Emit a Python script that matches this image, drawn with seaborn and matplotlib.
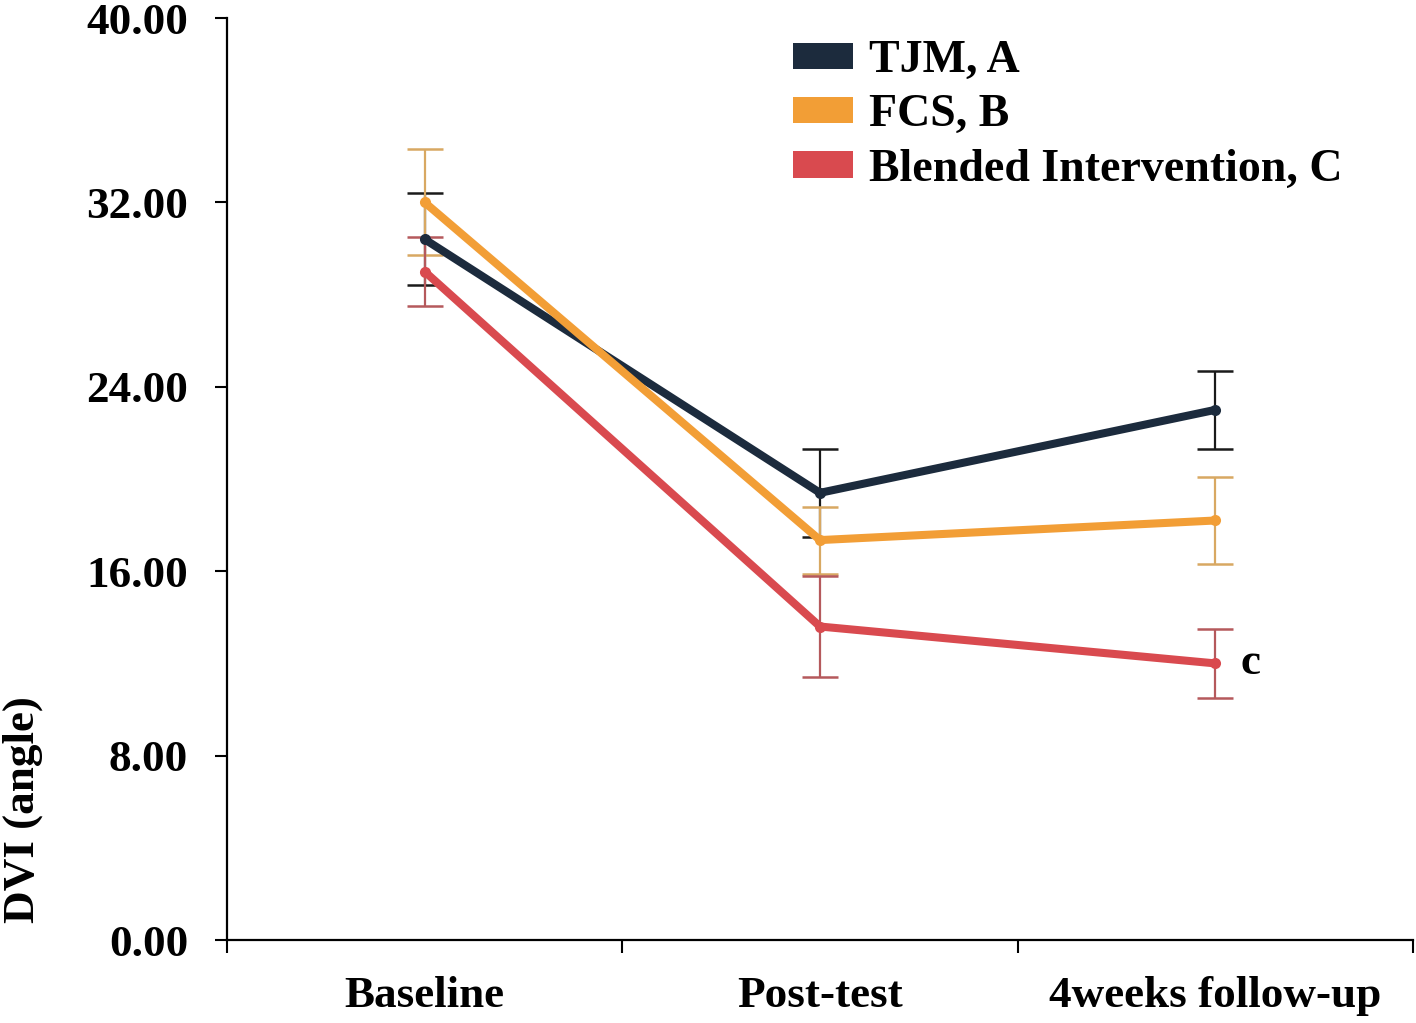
import matplotlib
matplotlib.use("Agg")
import matplotlib.pyplot as plt
import seaborn as sns
import pandas as pd
from matplotlib.patches import Patch

# ---- data ----
timepoints = ["Baseline", "Post-test", "4weeks follow-up"]
groups = ["TJM, A", "FCS, B", "Blended Intervention, C"]
tjm_mean = [30.4, 19.4, 23.0]
tjm_sd = [2.0, 1.9, 1.7]
fcs_mean = [32.0, 17.35, 18.2]
fcs_sd = [2.3, 1.45, 1.9]
bi_mean = [29.0, 13.6, 12.0]
bi_sd = [1.5, 2.2, 1.5]
yticks = [0, 8, 16, 24, 32, 40]
annotation_text = "c"

line_colors = ["#1c2b3d", "#f29e36", "#d94a4f"]
bar_colors = ["#1a1a1a", "#d8a862", "#b5595c"]

means = [tjm_mean, fcs_mean, bi_mean]
sds = [tjm_sd, fcs_sd, bi_sd]

rows = []
for g, m in zip(groups, means):
    for t, v in zip(timepoints, m):
        rows.append({"time": t, "group": g, "value": v})
df = pd.DataFrame(rows)

sns.set_theme(style="white")
plt.rcParams["font.family"] = ["Liberation Serif", "DejaVu Serif"]
plt.rcParams["font.weight"] = "bold"
plt.rcParams["text.color"] = "black"
plt.rcParams["axes.labelcolor"] = "black"
plt.rcParams["xtick.color"] = "black"
plt.rcParams["ytick.color"] = "black"

FS = 32.5

fig = plt.figure(figsize=(14.16, 10.23), dpi=100)
ax = fig.add_axes([227 / 1416, 83 / 1023, (1413 - 227) / 1416, (940 - 18) / 1023])

sns.lineplot(data=df, x="time", y="value", hue="group", hue_order=groups,
             palette=line_colors, linewidth=5.8, marker="o", markersize=8,
             markeredgewidth=0, sort=False, ax=ax, legend=False, zorder=3)

xpos = list(range(len(timepoints)))
for m, s, lc, bc in zip(means, sds, line_colors, bar_colors):
    eb = ax.errorbar(xpos, m, yerr=s, fmt="none", ecolor=bc, elinewidth=1.6,
                     capsize=13, capthick=1.8, zorder=2)
    for cl in eb[1]:
        cl.set_color(lc if lc != line_colors[0] else bc)

ax.set_xlim(-0.5, 2.5)
ax.set_ylim(0, 40)
ax.set_yticks(yticks)
ax.set_yticklabels([f"{v:.2f}" for v in yticks], fontsize=FS, fontweight="bold", color="black")
ax.set_xticks(xpos)
ax.set_xticklabels(timepoints, fontsize=FS, fontweight="bold", color="black")
ax.set_xticks([-0.5, 0.5, 1.5, 2.5], minor=True)
ax.tick_params(axis="x", which="major", length=0, pad=26, bottom=True)
ax.tick_params(axis="x", which="minor", length=9, width=1.5, color="black",
               direction="out", bottom=True)
ax.tick_params(axis="y", length=9, width=1.5, color="black", direction="out", pad=19, left=True)

for sp in ["top", "right"]:
    ax.spines[sp].set_visible(False)
for sp in ["left", "bottom"]:
    ax.spines[sp].set_color("black")
    ax.spines[sp].set_linewidth(1.6)

ax.set_xlabel("")
ax.set_ylabel("DVI (angle)", fontsize=FS, fontweight="bold", color="black")
ax.yaxis.set_label_coords(-0.155, 0.141)

ax.annotate(annotation_text, xy=(2, bi_mean[2]), xytext=(25, 0), textcoords="offset points",
            ha="center", va="center", fontsize=FS, fontweight="bold", color="black")

handles = [Patch(facecolor=c, edgecolor="none") for c in line_colors]
leg = fig.legend(handles, groups, loc="upper left",
                 bbox_to_anchor=(793 / 1416, (1023 - 40) / 1023),
                 frameon=False, prop={"weight": "bold", "size": 33},
                 handlelength=1.3, handleheight=0.5, handletextpad=0.36,
                 labelspacing=0.27, borderpad=0, borderaxespad=0)
for t in leg.get_texts():
    t.set_color("black")

fig.savefig("out.png", dpi=100)
